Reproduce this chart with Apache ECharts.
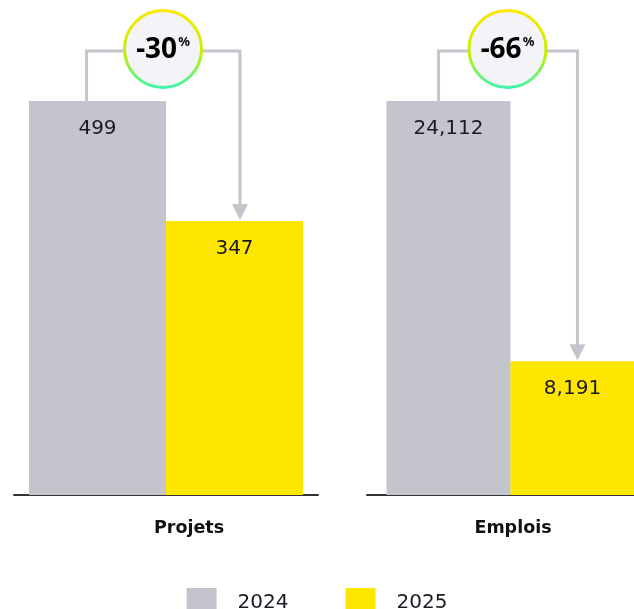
<!DOCTYPE html>
<html>
<head>
<meta charset="utf-8">
<script src="https://cdn.jsdelivr.net/npm/echarts@6/dist/echarts.min.js"></script>
<style>
  html, body { margin: 0; padding: 0; background: #fff; }
  #chart { width: 634px; height: 609px; }
</style>
</head>
<body>
<div id="chart"></div>
<script>
// données
const categories = ['Projets', 'Emplois'];
const values2024 = [499, 24112];
const values2025 = [347, 8191];
const changeLabels = ['-30', '-66'];
const legendNames = ['2024', '2025'];

const GRAY = '#c4c4cd';
const YELLOW = '#ffe600';
const LINE = '#c4c4cc';
const barWidths = [137, 124];

const chart = echarts.init(document.getElementById('chart'));

const fmt = (p) => p.value.toLocaleString('en-US');

const barLabel = {
  show: true,
  position: 'insideTop',
  distance: 18,
  fontFamily: 'DejaVu Sans',
  fontSize: 20,
  color: '#1a1a24',
  formatter: fmt,
};

// la grille de droite déborde du cadre (barre jaune coupée)
const grids = [
  { left: 14, width: 304, top: 101, bottom: 114, outerBoundsMode: 'none' },
  { left: 367, width: 287, top: 101, bottom: 114, outerBoundsMode: 'none' },
];
const labelPads = [[0, 0, 0, 46], [0, 0, 0, 5]];

const series = [];
categories.forEach((c, i) => {
  series.push({
    name: legendNames[0], type: 'bar', xAxisIndex: i, yAxisIndex: i,
    data: [values2024[i]], barWidth: barWidths[i], barGap: '0%',
    itemStyle: { color: GRAY }, label: barLabel, silent: true,
  });
  series.push({
    name: legendNames[1], type: 'bar', xAxisIndex: i, yAxisIndex: i,
    data: [values2025[i]], barWidth: barWidths[i], barGap: '0%',
    itemStyle: { color: YELLOW }, label: barLabel, silent: true,
  });
});

chart.setOption({
  animation: false,
  legend: {
    data: legendNames,
    left: 'center',
    top: 583,
    icon: 'rect',
    itemWidth: 30,
    itemHeight: 30,
    itemGap: 57,
    textStyle: { fontFamily: 'DejaVu Sans', fontSize: 20, color: '#1a1a24', padding: [0, 0, 0, 16] },
  },
  grid: grids,
  xAxis: categories.map((c, i) => ({
    type: 'category',
    gridIndex: i,
    data: [c],
    axisTick: { show: false },
    axisLine: { show: true, lineStyle: { color: '#333', width: 2 } },
    axisLabel: {
      margin: 24, padding: labelPads[i],
      fontFamily: 'DejaVu Sans', fontWeight: 'bold', fontSize: 17.5, color: '#111',
    },
  })),
  yAxis: categories.map((c, i) => ({
    type: 'value', gridIndex: i, min: 0, max: 'dataMax', show: false,
  })),
  series: series,
});

// flèches et pastilles de variation
const ringGradient = new echarts.graphic.LinearGradient(0, 0, 0, 1, [
  { offset: 0, color: '#ffe600' },
  { offset: 0.55, color: '#c4f000' },
  { offset: 1, color: '#3cf5b4' },
]);
const graphics = [];
const bracketY = 51;
categories.forEach((c, i) => {
  const w = barWidths[i];
  const topGray = chart.convertToPixel({ xAxisIndex: i, yAxisIndex: i }, [c, values2024[i]]);
  const topYellow = chart.convertToPixel({ xAxisIndex: i, yAxisIndex: i }, [c, values2025[i]]);
  const cx = topGray[0];
  const xl = cx - w + 0.42 * w;
  const xr = cx + 0.54 * w;
  const tip = topYellow[1] - 1;
  graphics.push({
    type: 'polyline', silent: true, z: 10,
    shape: { points: [[xl, topGray[1]], [xl, bracketY], [xr, bracketY], [xr, tip - 14]] },
    style: { stroke: LINE, lineWidth: 3, fill: null },
  });
  graphics.push({
    type: 'polygon', silent: true, z: 10,
    shape: { points: [[xr - 8, tip - 16], [xr + 8, tip - 16], [xr, tip]] },
    style: { fill: LINE },
  });
  graphics.push({
    type: 'circle', silent: true, z: 11,
    shape: { cx: cx - 3, cy: 49, r: 38.5 },
    style: { fill: '#f4f4f8', stroke: ringGradient, lineWidth: 3 },
  });
  graphics.push({
    type: 'text', silent: true, z: 12,
    x: cx - 3, y: 50,
    style: {
      text: '{a|' + changeLabels[i] + '}{b|%}',
      align: 'center',
      verticalAlign: 'middle',
      rich: {
        a: { fontFamily: 'Noto Sans', fontWeight: 'bold', fontSize: 28, color: '#2e2e38' },
        b: { fontFamily: 'Noto Sans', fontWeight: 'bold', fontSize: 13, color: '#2e2e38', verticalAlign: 'top', padding: [0, 0, 10, 1] },
      },
    },
  });
});
chart.setOption({ graphic: graphics });
</script>
</body>
</html>
